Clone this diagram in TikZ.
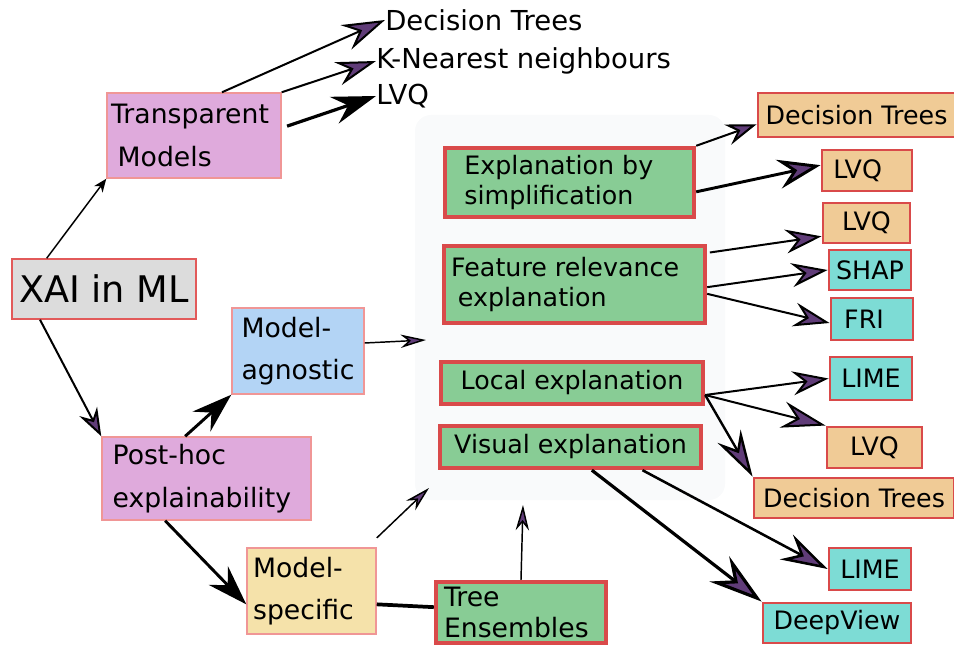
\documentclass[tikz,border=0pt]{standalone}
\usepackage{fontspec}
\setmainfont{DejaVu Sans}
\usepackage{xcolor}
\usepackage{tikz}
\usetikzlibrary{shapes.geometric, arrows.meta}
\definecolor{rootgray}{RGB}{220,220,220}
\definecolor{rootred}{RGB}{226,90,90}
\definecolor{palered}{RGB}{240,150,150}
\definecolor{boxred}{RGB}{217,74,74}
\definecolor{typepink}{RGB}{223,170,220}
\definecolor{agnblue}{RGB}{179,212,245}
\definecolor{specyellow}{RGB}{245,226,170}
\definecolor{methgreen}{RGB}{136,204,149}
\definecolor{leaforange}{RGB}{240,203,150}
\definecolor{leafcyan}{RGB}{125,220,213}
\definecolor{tippurple}{RGB}{96,60,120}
\definecolor{shadegray}{RGB}{249,250,251}
\tikzstyle{root} = [rectangle, draw=rootred, line width=1.1pt, fill=rootgray, inner sep=2pt, font=\fontsize{27.5}{33}\selectfont]
\tikzstyle{branch} = [rectangle, draw=palered, line width=1.1pt, inner sep=2pt, align=left, font=\fontsize{20}{32}\selectfont]
\tikzstyle{method} = [rectangle, draw=boxred, line width=3.3pt, fill=methgreen, inner sep=2pt, align=left, font=\fontsize{19}{23}\selectfont]
\tikzstyle{leaf} = [rectangle, draw=boxred, line width=2.2pt, inner sep=2pt, font=\fontsize{19}{23}\selectfont]
\tikzstyle{modelleaf} = [leaf, fill=leaforange]
\tikzstyle{toolleaf} = [leaf, fill=leafcyan]
\tikzstyle{toplabel} = [anchor=west, inner sep=0pt, font=\fontsize{20.6}{24}\selectfont]
\tikzstyle{arrow} = [line width=1.5pt, -{Stealth[length=27pt, width=18pt, inset=9pt, fill=tippurple]}]
\tikzstyle{bigarrow} = [line width=2.4pt, -{Stealth[length=40pt, width=24pt, inset=14pt, fill=tippurple]}]
\tikzstyle{smallarrow} = [line width=1.1pt, -{Stealth[length=19pt, width=10pt, inset=6pt, fill=tippurple]}]
\tikzstyle{blackarrow} = [line width=2.2pt, -{Stealth[length=30pt, width=20pt, inset=10pt]}]
\tikzstyle{thinarrow} = [line width=1.1pt, -{Stealth[length=10pt, width=8pt, inset=3pt]}]

\begin{document}
\begin{tikzpicture}[x=0.75pt, y=-0.75pt]
		\useasboundingbox (0,0) rectangle (954,645);
		
		% Shaded area behind the explanation types
		\fill[shadegray, rounded corners=12pt] (415,115) rectangle (725,500);
		
		% Nodes for the left side
		\node (xai) [root, minimum width=138pt, minimum height=45pt] at (104,289) {XAI in ML};
		\node (trans) [branch, fill=typepink, minimum width=130.5pt, minimum height=63.75pt] at (194,135.5) {Transparent\hspace*{6pt}\\\hspace*{5pt}Models};
		\node (posthoc) [branch, fill=typepink, minimum width=156.75pt, minimum height=62.25pt] at (206.5,478.5) {Post-hoc\\explainability\hspace*{7pt}};
		\node (agnostic) [branch, fill=agnblue, minimum width=99pt, minimum height=64.5pt] at (298,351) {Model-\\agnostic};
		\node (specific) [branch, fill=specyellow, minimum width=96.75pt, minimum height=64.5pt] at (311.5,591) {Model-\\specific\hspace*{12pt}};
		\node (ensembles) [method, font=\fontsize{20}{23}\selectfont, minimum width=127.5pt, minimum height=45.75pt] at (521,612.5) {Tree\\Ensembles\hspace*{7pt}};
		
		% Labels for transparent models
		\node (dtlabel) [toplabel] at (385,20) {Decision Trees};
		\node (knnlabel) [toplabel] at (376,61) {K-Nearest neighbours};
		\node (lvqlabel) [toplabel] at (376,96) {LVQ};
		
		% Nodes for explanation types
		\node (simpl) [method, minimum width=186.75pt, minimum height=51.75pt] at (569.5,182.5) {Explanation by\hspace*{16pt}\\simplification};
		\node (featrel) [method, minimum width=195.75pt, minimum height=57.75pt] at (574.5,284.5) {Feature relevance\hspace*{14pt}\\\hspace*{5pt}explanation};
		\node (local) [method, minimum width=196.5pt, minimum height=31.5pt] at (572,383) {Local explanation};
		\node (visual) [method, minimum width=195.75pt, minimum height=31.5pt] at (570.5,447) {Visual explanation};
		
		% Nodes for the methods
		\node (dtone) [modelleaf, minimum width=147.75pt, minimum height=33pt] at (856.5,115) {Decision Trees};
		\node (lvqone) [modelleaf, minimum width=67.5pt, minimum height=30.75pt] at (867,170.5) {LVQ\hspace*{14pt}};
		\node (lvqtwo) [modelleaf, minimum width=65.25pt, minimum height=30pt] at (866.5,223) {LVQ};
		\node (shap) [toolleaf, minimum width=61.5pt, minimum height=30pt] at (870,270) {SHAP};
		\node (fri) [toolleaf, minimum width=61.5pt, minimum height=31.5pt] at (872,319) {FRI\hspace*{12pt}};
		\node (limeone) [toolleaf, minimum width=61.5pt, minimum height=32.25pt] at (871,378.5) {LIME};
		\node (lvqthree) [modelleaf, minimum width=71.25pt, minimum height=30.75pt] at (874.5,447.5) {LVQ};
		\node (dttwo) [modelleaf, minimum width=150pt, minimum height=30pt] at (854,498) {Decision Trees};
		\node (limetwo) [toolleaf, minimum width=61.5pt, minimum height=31.5pt] at (870,569) {LIME};
		\node (deepview) [toolleaf, minimum width=111pt, minimum height=30pt] at (837,623) {DeepView};
		
		% Free ends
		\coordinate (agnend) at (426,340);
		\coordinate (specend) at (429,488);
		\coordinate (ensend) at (523,505);
		
		% Arrows for the left side
		\draw [thinarrow] ([xshift=-43pt]xai.north) -- (trans.south west);
		\draw [arrow, -{Stealth[length=21pt, width=15pt, inset=7pt, fill=tippurple]}] ([xshift=-48pt]xai.south) -- (posthoc.north west);
		\draw [blackarrow] ([xshift=-16pt]posthoc.north) -- (agnostic.south west);
		\draw [blackarrow] ([xshift=-31pt]posthoc.south) -- ([yshift=-10pt]specific.west);
		\draw [smallarrow] ([yshift=6pt]agnostic.east) -- (agnend);
		\draw [smallarrow] ([yshift=7pt]specific.north east) -- (specend);
		\draw [line width=2.8pt] ([yshift=-10pt]specific.east) -- ([yshift=4pt]ensembles.west);
		\draw [smallarrow] (ensembles.north) -- (ensend);
		
		% Arrows for transparent models
		\draw [arrow, -{Stealth[length=32pt, width=20pt, inset=11pt, fill=tippurple]}] ([xshift=21pt]trans.north) -- (dtlabel.west);
		\draw [arrow, -{Stealth[length=30pt, width=18pt, inset=10pt, fill=tippurple]}] (trans.north east) -- (knnlabel.west);
		\draw [blackarrow, line width=2.4pt, -{Stealth[length=33pt, width=21pt, inset=11pt]}] ([xshift=4pt, yshift=7pt]trans.east) -- (lvqlabel.west);
		
		% Arrows for the methods
		\draw [arrow, -{Stealth[length=23pt, width=16pt, inset=8pt, fill=tippurple]}] (simpl.north east) -- ([yshift=-7pt]dtone.west);
		\draw [arrow, line width=2.2pt, -{Stealth[length=32pt, width=22pt, inset=11pt, fill=tippurple]}] ([yshift=-7pt]simpl.east) -- ([yshift=4pt]lvqone.west);
		\draw [arrow] ([xshift=2pt, yshift=24pt]featrel.east) -- ([yshift=-10pt]lvqtwo.west);
		\draw [arrow] ([yshift=-2pt]featrel.east) -- (shap.west);
		\draw [arrow] ([yshift=-7pt]featrel.east) -- ([yshift=-3pt]fri.west);
		\draw [arrow] ([yshift=-9pt]local.east) -- (limeone.west);
		\draw [arrow, -{Stealth[length=33pt, width=20pt, inset=11pt, fill=tippurple]}] ([yshift=-9pt]local.east) -- (lvqthree.north west);
		\draw [bigarrow, line width=1.8pt, -{Stealth[length=35pt, width=20pt, inset=12pt, fill=tippurple]}] ([yshift=-9pt]local.east) -- (dttwo.north west);
		\draw [bigarrow] ([xshift=16pt]visual.south) -- (deepview.north west);
		\draw [arrow, line width=1.9pt, -{Stealth[length=35pt, width=21pt, inset=12pt, fill=tippurple]}] ([xshift=54pt]visual.south) -- (limetwo.west);
		
	\end{tikzpicture}
\end{document}
